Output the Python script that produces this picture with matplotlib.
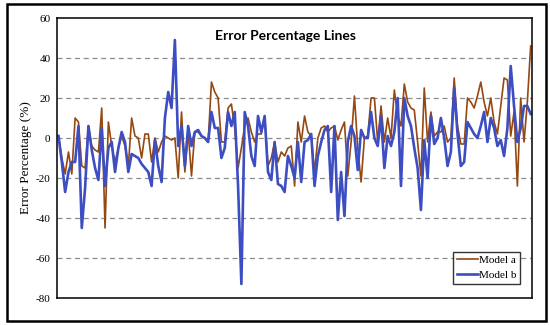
import matplotlib.pyplot as plt
from matplotlib.patches import Rectangle

# Error percentage values, one per time step
model_a = [1, -10, -18, -7, -18, 10, 8, -14, -15, 6, -4, -6, -7, 15, -45, 8, -4, -12, -5, 1, -4, -14, 10, 1,
           0, -10, 2, 2, -12, 0, -7, -2, 1, 0, -1, 0, -20, 13, -17, 3, -19, 3, 3, 1, 0, -2, 28, 23,
           20, -2, -2, 15, 17, 5, -15, -5, 6, 10, 3, -2, 2, 2, 11, -14, -10, -2, -12, -7, -9, -5, -4, -24,
           8, -2, 11, 3, 1, -17, 0, 5, 6, 3, 5, 6, -1, 4, 8, -19, -2, 21, -5, -22, 0, 1, 20, 20,
           -2, 16, -2, 10, 0, 24, 11, 6, 27, 18, 15, 14, -2, -19, 25, -2, 13, 1, 3, 3, 6, -2, 0, 30,
           6, -3, -3, 20, 18, 15, 21, 28, 18, 11, 20, 8, 2, 16, 30, 29, 1, 13, -24, 20, -2, 18, 46]
model_b = [1, -12, -27, -17, -12, -12, 6, -45, -25, 6, -6, -15, -21, 5, -24, -5, -2, -17, -5, 3, -2, -17, -8, -9,
           -10, -13, -15, -17, -24, -1, -14, -22, 10, 23, 15, 49, -4, 6, -14, 6, -4, 3, 4, 1, 0, -2, 13, 5,
           5, -10, -5, 13, 6, 13, -24, -73, 13, 6, -9, -14, 11, 3, 11, -17, -21, -2, -23, -24, -27, -9, -14, -20,
           -2, -22, -2, -1, 2, -24, -9, -2, 4, 6, -27, 6, -41, -17, -39, -2, 6, 1, -16, 4, 0, 0, 13, 0,
           -4, 11, -15, 1, -4, 3, 20, -24, 20, 11, 6, -5, -15, -36, -1, -20, 11, -3, 0, 10, 0, -14, -7, 25,
           2, -14, -12, 8, 5, 2, 0, 6, 13, -2, 10, 5, -4, -1, -9, 5, 36, 16, -2, 5, 16, 16, 12]
steps = list(range(len(model_a)))
y_ticks = [-80, -60, -40, -20, 0, 20, 40, 60]

serif = "Liberation Serif"

fig = plt.figure(figsize=(5.5, 3.25), dpi=100)
ax = fig.add_axes([57.5 / 550, 27 / 325, 474.5 / 550, 280 / 325])

ax.plot(steps, model_a, color="#954812", linewidth=1.2, label="Model a")
ax.plot(steps, model_b, color="#3c4ec2", linewidth=1.9, label="Model b")

ax.set_xlim(-0.3, len(steps) - 0.6)
ax.set_ylim(-80, 60)
ax.set_yticks(y_ticks)
ax.set_yticklabels([str(v) for v in y_ticks], fontfamily=serif, fontsize=8)
ax.set_xticks([])
ax.tick_params(axis="y", length=0, pad=5)
for v in y_ticks[1:-1]:
    ax.axhline(v, color="#8c8c8c", linewidth=0.9, linestyle=(0, (4, 3)), zorder=0)
for s in ax.spines.values():
    s.set_linewidth(1.1)
    s.set_color("black")

ax.set_ylabel("Error Percentage (%)", fontfamily=serif, fontsize=9.5, labelpad=3)
ax.text(0.48, 0.935, "Error Percentage Lines", transform=ax.transAxes, ha="center", va="center",
        fontfamily="Lato", fontweight="bold", fontsize=10)

leg = ax.legend(loc="lower right", bbox_to_anchor=(0.975, 0.05), prop={"family": serif, "size": 8},
                frameon=True, fancybox=False, handlelength=1.9, handletextpad=0.1,
                borderpad=0.35, labelspacing=0.45, borderaxespad=0)
leg.get_frame().set_edgecolor("black")
leg.get_frame().set_linewidth(1.0)

# chart area border
fig.patches.append(Rectangle((7 / 550, 4 / 325), 539 / 550, 317 / 325, transform=fig.transFigure,
                             fill=False, edgecolor="black", linewidth=1.8))

fig.savefig("out.png", dpi=100)
